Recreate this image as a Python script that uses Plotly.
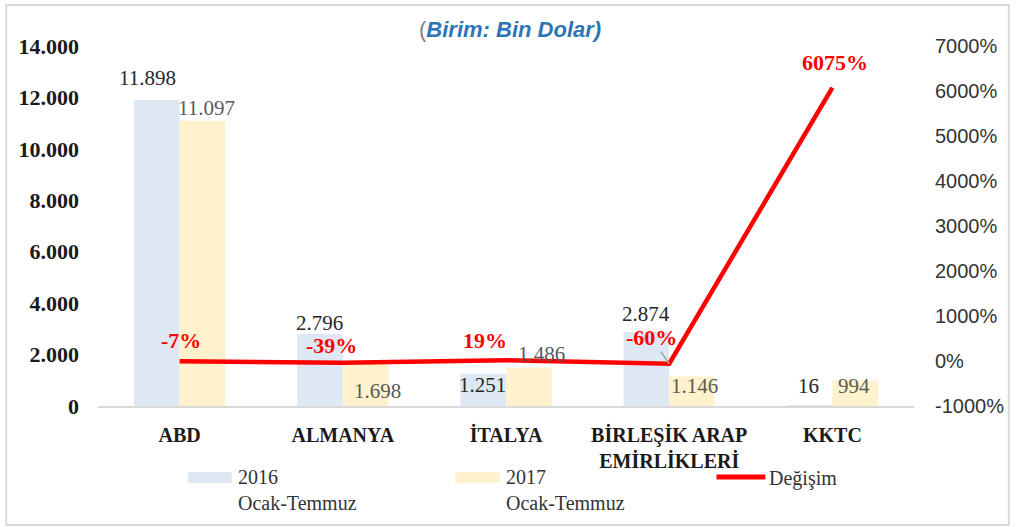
import plotly.graph_objects as go

# ---- data ----
categories = ["ABD", "ALMANYA", "İTALYA", "BİRLEŞİK ARAP<br>EMİRLİKLERİ", "KKTC"]
values_2016 = [11898, 2796, 1251, 2874, 16]
values_2017 = [11097, 1698, 1486, 1146, 994]
change_pct = [-7, -39, 19, -60, 6075]
left_ticks = [0, 2000, 4000, 6000, 8000, 10000, 12000, 14000]
right_ticks = [-1000, 0, 1000, 2000, 3000, 4000, 5000, 6000, 7000]

# ---- layout geometry (pixels) ----
W, H = 1016, 527
L, R, T, B = 98, 100, 46, 121
PW, PH = W - L - R, H - T - B


def px(x):
    return (x - L) / PW


def py(y):
    return (H - B - y) / PH


C16 = "#DEE8F5"
C17 = "#FFF2CC"
RED = "#FF0000"
SERIF = "Liberation Serif"


def fmt(v):
    return f"{v:,}".replace(",", ".")


fig = go.Figure()
fig.add_trace(go.Bar(x=categories, y=values_2016, name="2016 Ocak-Temmuz",
                     marker=dict(color=C16, line=dict(width=0)), showlegend=False))
fig.add_trace(go.Bar(x=categories, y=values_2017, name="2017 Ocak-Temmuz",
                     marker=dict(color=C17, line=dict(width=0)), showlegend=False))
fig.add_trace(go.Scatter(x=categories, y=change_pct, name="Değişim", yaxis="y2",
                         mode="lines", line=dict(color=RED, width=4.5),
                         showlegend=False))

annotations = []
# bar labels (per-label offsets: dx, dy in px relative to bar top centre)
off16 = [(-9, 22), (0, 11), (-1, -11), (0, 18), (-1, 20)]
off17 = [(4, 13), (12, -29), (12, 14), (2, -9), (-1, -6)]
for c, v, (dx, dy) in zip(categories, values_2016, off16):
    annotations.append(dict(x=c, y=v, xref="x", yref="y", text=fmt(v), showarrow=False,
                            xshift=-23 + dx, yshift=dy, yanchor="middle",
                            font=dict(family=SERIF, size=21, color="#262626")))
for c, v, (dx, dy) in zip(categories, values_2017, off17):
    annotations.append(dict(x=c, y=v, xref="x", yref="y", text=fmt(v), showarrow=False,
                            xshift=23 + dx, yshift=dy, yanchor="middle",
                            font=dict(family=SERIF, size=21, color="#595959")))

# line labels
offl = [(1, 21), (-11, 17), (-21, 20), (-18, 26), (3, 25)]
for i, (c, v, (dx, dy)) in enumerate(zip(categories, change_pct, offl)):
    f = dict(family=SERIF, size=22, color=RED, weight="bold")
    if i == 3:
        annotations.append(dict(x=c, y=v, xref="x", yref="y2", text=f"{v}%",
                                showarrow=True, ax=dx, ay=-dy, arrowhead=0,
                                arrowwidth=1.5, arrowcolor="#A6A6A6", standoff=0,
                                font=f))
    else:
        annotations.append(dict(x=c, y=v, xref="x", yref="y2", text=f"{v}%",
                                showarrow=False, xshift=dx, yshift=dy,
                                yanchor="middle", font=f))

# title
annotations.append(dict(x=px(511), y=py(30), xref="paper", yref="paper",
                        text="<span style='color:#7F7F7F'>(</span><b><i>Birim: Bin Dolar)</i></b>",
                        showarrow=False, xanchor="center", yanchor="middle",
                        font=dict(family="Liberation Sans", size=22, color="#2E75B6")))

# legend (manual)
legend_font = dict(family=SERIF, size=20, color="#333333")
annotations.append(dict(x=px(236), y=py(490), xref="paper", yref="paper",
                        text="2016<br>Ocak-Temmuz", showarrow=False, align="left",
                        xanchor="left", yanchor="middle", font=legend_font))
annotations.append(dict(x=px(505), y=py(490), xref="paper", yref="paper",
                        text="2017<br>Ocak-Temmuz", showarrow=False, align="left",
                        xanchor="left", yanchor="middle", font=legend_font))
annotations.append(dict(x=px(769), y=py(478), xref="paper", yref="paper",
                        text="Değişim", showarrow=False, align="left",
                        xanchor="left", yanchor="middle", font=legend_font))

shapes = [
    dict(type="rect", xref="paper", yref="paper", x0=px(188), x1=px(232),
         y0=py(483), y1=py(472), fillcolor=C16, line=dict(width=0)),
    dict(type="rect", xref="paper", yref="paper", x0=px(456), x1=px(501),
         y0=py(483), y1=py(472), fillcolor=C17, line=dict(width=0)),
    dict(type="line", xref="paper", yref="paper", x0=px(718), x1=px(767),
         y0=py(477), y1=py(477), line=dict(color=RED, width=5)),
    dict(type="rect", xref="paper", yref="paper", x0=px(6), x1=px(1011),
         y0=py(525), y1=py(5), line=dict(color="#D9D9D9", width=2),
         fillcolor="rgba(0,0,0,0)", layer="below"),
]

fig.update_layout(
    width=W, height=H, autosize=False,
    margin=dict(l=L, r=R, t=T, b=B, pad=0),
    paper_bgcolor="white", plot_bgcolor="white",
    barmode="group", bargap=0.44, bargroupgap=0,
    showlegend=False,
    xaxis=dict(showline=True, linecolor="#D9D9D9", linewidth=2, showgrid=False,
               ticks="", tickfont=dict(family=SERIF, size=20, color="#1a1a1a",
                                       weight="bold"),
               ticklabelstandoff=10),
    yaxis=dict(range=[0, 14000], tickmode="array", tickvals=left_ticks,
               ticktext=[fmt(v) for v in left_ticks],
               showgrid=False, zeroline=False, showline=False, ticks="",
               tickfont=dict(family=SERIF, size=22, color="#1a1a1a", weight="bold"),
               ticklabelstandoff=18),
    yaxis2=dict(range=[-1000, 7000], tickmode="array", tickvals=right_ticks,
                ticktext=[f"{v}%" for v in right_ticks],
                overlaying="y", side="right", showgrid=False,
                zeroline=False, showline=False, ticks="",
                tickfont=dict(family="Liberation Sans", size=20, color="#333333"),
                ticklabelstandoff=20),
    annotations=annotations,
    shapes=shapes,
)

fig.write_html("out.html", config={"displayModeBar": False},
               post_script="document.body.style.margin='0';")
